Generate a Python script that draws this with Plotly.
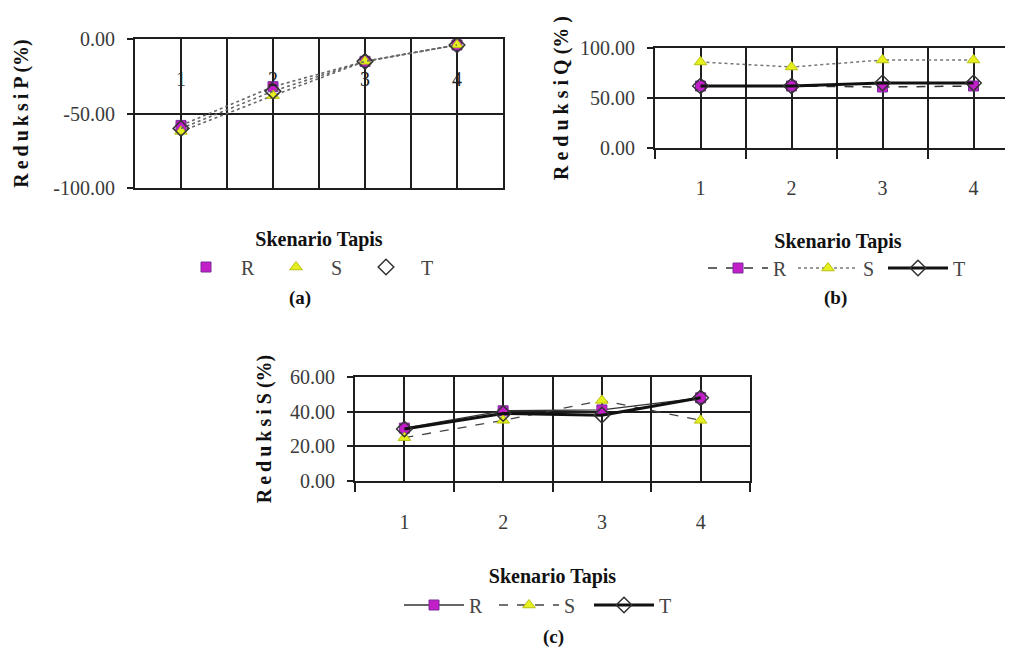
import plotly.graph_objects as go

# ---------------- data ----------------
categories = [1, 2, 3, 4]
cat_labels = ["1", "2", "3", "4"]
boundaries = [0.5, 1.5, 2.5, 3.5, 4.5]
series_names = ["R", "S", "T"]

# (a) Reduksi P (%)
p_R = [-58, -32, -15, -4]
p_S = [-62, -38, -15, -4]
p_T = [-60, -35, -15, -4]
p_tickvals = [-100, -50, 0]
p_ticktext = ["-100.00", "-50.00", "0.00"]

# (b) Reduksi Q (%)
q_R = [62, 62, 61, 62]
q_S = [86, 81, 88, 88]
q_T = [62, 62, 65, 65]
q_tickvals = [0, 50, 100]
q_ticktext = ["0.00", "50.00", "100.00"]

# (c) Reduksi S (%)
s_R = [30.5, 40.5, 41, 48]
s_S = [25, 35, 46.5, 35]
s_T = [30, 39, 38, 48]
s_tickvals = [0, 20, 40, 60]
s_ticktext = ["0.00", "20.00", "40.00", "60.00"]

x_title = "Skenario Tapis"
TS = "\u2009"
y_titles = [TS.join("Reduksi") + " P (%)", "R e d u k s i Q (% )", TS.join("Reduksi") + " S (%)"]
panel_labels = ["(a)", "(b)", "(c)"]

# ---------------- style ----------------
W, H = 1013, 651
OFF = 8  # page body margin
FONT = "Liberation Serif"
GRID = "#1e1e1e"
MAG = "#c21fc9"
YEL = "#e6f01e"


def px_x(v):
    return (v - OFF) / W


def px_y(v):
    return 1 - (v - OFF) / H


fig = go.Figure()


def mk(name, x, y, xa, ya, legend, line, marker, showlegend=True, mode="lines+markers"):
    fig.add_trace(go.Scatter(
        x=x, y=y, name=name, mode=mode, xaxis=xa, yaxis=ya, legend=legend,
        line=line, marker=marker, showlegend=showlegend, hoverinfo="x+y+name"))


mR = dict(symbol="square", size=10, color=MAG, line=dict(color="#7a2a9a", width=1))
mS = dict(symbol="triangle-up", size=11, color=YEL, line=dict(color="#b8c010", width=1))
mT = dict(symbol="diamond-open", size=12, color="#333333", line=dict(width=1.5))

# (a) lines without legend, legend shows markers only
for nm, vals, mk_ in zip(series_names, [p_R, p_S, p_T], [mR, mS, mT]):
    mk(nm, categories, vals, "x", "y", "legend",
       dict(color="#666666", width=1.6, dash="dot"), mk_, showlegend=False)
for nm, mk_ in zip(series_names, [mR, mS, mT]):
    mk(nm, [None], [None], "x", "y", "legend", dict(width=0), mk_, mode="markers")

# (b)
mk("R", categories, q_R, "x2", "y2", "legend2", dict(color="#333333", width=1.5, dash="dash"), mR)
mk("S", categories, q_S, "x2", "y2", "legend2", dict(color="#777777", width=1.5, dash="dot"), mS)
mk("T", categories, q_T, "x2", "y2", "legend2", dict(color="#111111", width=3), mT)

# (c)
mk("R", categories, s_R, "x3", "y3", "legend3", dict(color="#333333", width=1.3), mR)
mk("S", categories, s_S, "x3", "y3", "legend3", dict(color="#444444", width=1.3, dash="dash"), mS)
mk("T", categories, s_T, "x3", "y3", "legend3", dict(color="#111111", width=3), mT)

tickfont = dict(family=FONT, size=20, color="#3a3a3a")
titlefont = dict(family=FONT, size=20, color="#111111", weight="bold")


def xax(dom, rng, show_labels, minor_ticks, standoff, lab_standoff):
    return dict(domain=dom, range=rng, tickmode="array", tickvals=categories, ticktext=cat_labels,
                showticklabels=show_labels, ticks="", tickfont=tickfont, ticklabelstandoff=lab_standoff,
                showgrid=True, gridcolor=GRID, gridwidth=2, zeroline=False, automargin=False,
                minor=dict(tickvals=boundaries, showgrid=True, gridcolor=GRID, gridwidth=2,
                           ticks="outside" if minor_ticks else "", ticklen=9, tickcolor=GRID, tickwidth=2),
                showline=True, linecolor=GRID, linewidth=2, mirror=True,
                title=dict(text=x_title, font=titlefont, standoff=standoff), fixedrange=True)


def yax(dom, rng, tv, tt, title, standoff):
    return dict(domain=dom, range=rng, tickmode="array", tickvals=tv, ticktext=tt,
                ticks="outside", ticklen=6, tickcolor=GRID, tickwidth=2, tickfont=tickfont,
                ticklabelstandoff=8, automargin=False,
                showgrid=True, gridcolor=GRID, gridwidth=2, zeroline=False,
                showline=True, linecolor=GRID, linewidth=2, mirror=True,
                title=dict(text=title, font=titlefont, standoff=standoff), fixedrange=True)


legend_common = dict(orientation="h", yanchor="middle", xanchor="left", bgcolor="rgba(0,0,0,0)",
                     font=dict(family=FONT, size=20, color="#444444"), itemwidth=60,
                     entrywidth=15, traceorder="normal")

fig.update_layout(
    width=W, height=H, margin=dict(l=0, r=0, t=0, b=0, autoexpand=False),
    paper_bgcolor="white", plot_bgcolor="white", font=dict(family=FONT),
    xaxis=dict(**xax([px_x(135), px_x(503)], [0.5, 4.5], False, False, 43, 18), anchor="y"),
    yaxis=yax([px_y(188), px_y(39)], [-100, 0], p_tickvals, p_ticktext, y_titles[0], 19) | dict(anchor="x"),
    xaxis2=dict(**xax([px_x(655), 1.0], [0.5, 0.5 + (W + OFF - 655) / 91.0], True, True, 36, 21), anchor="y2"),
    yaxis2=yax([px_y(148), px_y(48)], [0, 100], q_tickvals, q_ticktext, y_titles[1], 6) | dict(anchor="x2"),
    xaxis3=dict(**xax([px_x(355), px_x(750)], [0.5, 4.5], True, True, 37, 22), anchor="y3"),
    yaxis3=yax([px_y(481), px_y(377)], [0, 60], s_tickvals, s_ticktext, y_titles[2], 13) | dict(anchor="x3"),
    legend=dict(legend_common, x=px_x(171), y=px_y(267)),
    legend2=dict(legend_common, x=px_x(703), y=px_y(268)),
    legend3=dict(legend_common, x=px_x(399), y=px_y(605), entrywidth=20),
    showlegend=True,
)

# category labels of panel (a) sit inside the plot area
for c, lab in zip(categories, cat_labels):
    fig.add_annotation(x=c, y=-27, xref="x", yref="y", text=lab, showarrow=False,
                       xanchor="center", yanchor="middle",
                       font=dict(family=FONT, size=20, color="#222222"))

for lab, (px, py) in zip(panel_labels, [(300, 298), (835, 298), (553, 637)]):
    fig.add_annotation(x=px_x(px), y=px_y(py), xref="paper", yref="paper", text=lab,
                       xanchor="center", yanchor="middle", showarrow=False,
                       font=dict(family=FONT, size=19, color="#111111", weight="bold"))

fig.write_html("out.html")
